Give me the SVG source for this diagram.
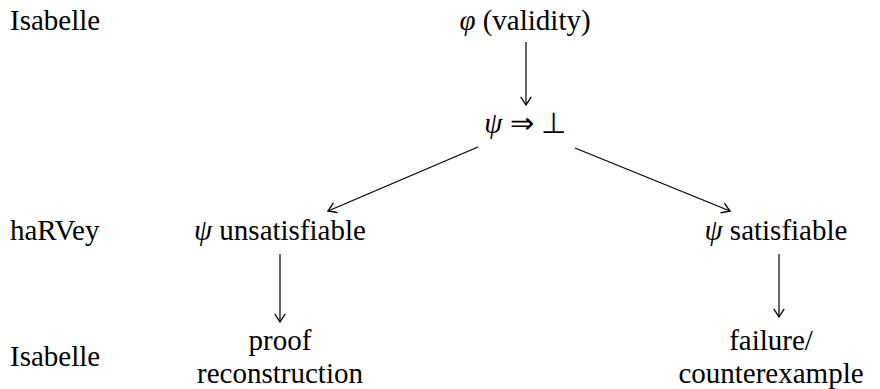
<svg xmlns="http://www.w3.org/2000/svg" width="880" height="389" viewBox="0 0 880 389">
<defs>
<marker id="ah" markerWidth="14" markerHeight="14" viewBox="-8 -6 10 12" refX="0" refY="0" orient="auto" markerUnits="userSpaceOnUse">
<path d="M-7,-4.5 Q-2,-1.2 0,0 Q-2,1.2 -7,4.5" fill="none" stroke="#000" stroke-width="1.1"/>
</marker>
</defs>
<rect width="880" height="389" fill="#fff"/>
<g id="label-isabelle-top"><text x="10" y="30" font-family="Liberation Serif, serif" font-size="29">Isabelle</text></g>
<g id="label-harvey"><text x="10" y="240" font-family="Liberation Serif, serif" font-size="29">haRVey</text></g>
<g id="label-isabelle-bottom"><text x="10" y="366" font-family="Liberation Serif, serif" font-size="29">Isabelle</text></g>
<g id="n-validity"><text text-anchor="middle" x="525" y="30" font-family="Liberation Serif, serif" font-size="29"><tspan font-style="italic">&#966;</tspan> (validity)</text></g>
<g id="n-psi-implies"><text text-anchor="middle" x="525" y="133" font-family="Liberation Serif, serif" font-size="29"><tspan font-style="italic">&#968;</tspan> &#8658; &#8869;</text></g>
<g id="n-unsat"><text text-anchor="middle" x="280" y="240" font-family="Liberation Serif, serif" font-size="29"><tspan font-style="italic">&#968;</tspan> unsatisfiable</text></g>
<g id="n-sat"><text text-anchor="middle" x="776" y="240" font-family="Liberation Serif, serif" font-size="29"><tspan font-style="italic">&#968;</tspan> satisfiable</text></g>
<g id="n-proof"><text text-anchor="middle" x="280" y="350" font-family="Liberation Serif, serif" font-size="29">proof</text><text text-anchor="middle" x="280" y="383" font-family="Liberation Serif, serif" font-size="29">reconstruction</text></g>
<g id="n-failure"><text text-anchor="middle" x="771" y="350" font-family="Liberation Serif, serif" font-size="29">failure/</text><text text-anchor="middle" x="771" y="383" font-family="Liberation Serif, serif" font-size="29">counterexample</text></g>
<g id="connectors" stroke="#000" stroke-width="1.2" fill="none" marker-end="url(#ah)">
<path d="M526,42 V105"/>
<path d="M478,147 L328,211"/>
<path d="M575,148 L730,211"/>
<path d="M280,254 V322"/>
<path d="M779,254 V317"/>
</g>
</svg>
